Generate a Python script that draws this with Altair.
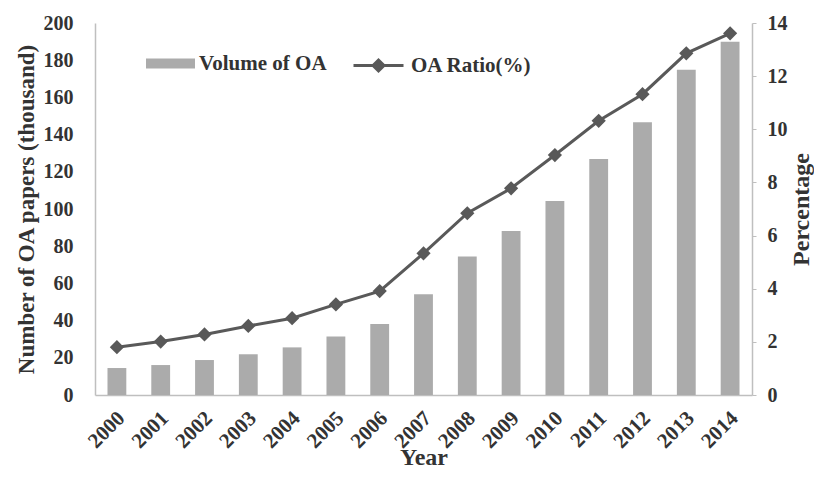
import altair as alt
import pandas as pd

years = [str(y) for y in range(2000, 2015)]
volume_thousand = [14.5, 16.1, 18.8, 21.9, 25.6, 31.4, 38.2, 54.1, 74.4, 88.2, 104.3, 126.9, 146.6, 174.9, 189.9]
oa_ratio = [1.80, 2.01, 2.28, 2.60, 2.89, 3.41, 3.91, 5.33, 6.84, 7.78, 9.03, 10.32, 11.32, 12.86, 13.61]
series_names = ["Volume of OA", "OA Ratio(%)"]
left_ticks = list(range(0, 201, 20))
right_ticks = list(range(0, 15, 2))

df = pd.DataFrame({
    "Year": years,
    "Volume": volume_thousand,
    "Ratio": oa_ratio,
    "bar_series": [series_names[0]] * len(years),
    "line_series": [series_names[1]] * len(years),
})

FONT = "Times New Roman, Liberation Serif, DejaVu Serif, serif"
TEXT = "#333333"
AXIS_GRAY = "#bfbfbf"
BAR = "#ababab"
LINE = "#595959"

x_enc = alt.X(
    "Year:N",
    title="Year",
    scale=alt.Scale(paddingInner=0.57, paddingOuter=0.285),
    axis=alt.Axis(labelAngle=-45, labelPadding=12, labelOffset=-3, ticks=False,
                  labelFontSize=21,
                  domainColor=AXIS_GRAY, domainWidth=1.5,
                  titleY=69, titleBaseline="alphabetic"),
)

bars = alt.Chart(df).mark_bar().encode(
    x=x_enc,
    y=alt.Y("Volume:Q", title="Number of OA papers (thousand)",
            scale=alt.Scale(domain=[0, 200], nice=False),
            axis=alt.Axis(values=left_ticks, ticks=False, labelPadding=22,
                          domainColor=AXIS_GRAY, domainWidth=1.5, titlePadding=5,
                          titleFontSize=23)),
    fill=alt.Fill("bar_series:N",
                  scale=alt.Scale(domain=[series_names[0]], range=[BAR]),
                  legend=alt.Legend(orient="none", legendX=51, legendY=16, title=None,
                                    symbolType="M-1,-0.2H1V0.2H-1Z", symbolSize=2401,
                                    symbolStrokeWidth=0, labelFontSize=21,
                                    labelFont=FONT, labelFontWeight="bold",
                                    labelColor=TEXT, labelOffset=4)),
)

line = alt.Chart(df).mark_line(
    strokeWidth=3,
    point=alt.OverlayMarkDef(shape="diamond", size=130, filled=True, color=LINE),
).encode(
    x=x_enc,
    y=alt.Y("Ratio:Q", title="Percentage",
            scale=alt.Scale(domain=[0, 14], nice=False),
            axis=alt.Axis(orient="right", values=right_ticks, tickSize=4, tickColor=AXIS_GRAY,
                          labelPadding=11, domainColor=AXIS_GRAY, domainWidth=1.5,
                          titleAngle=270, titleBaseline="top", titlePadding=2)),
    stroke=alt.Stroke("line_series:N",
                      scale=alt.Scale(domain=[series_names[1]], range=[LINE]),
                      legend=alt.Legend(orient="none", legendX=257, legendY=16, title=None,
                                        symbolType="M-1,0H1M-0.22,0L0,-0.22L0.22,0L0,0.22Z",
                                        symbolSize=2500, symbolStrokeWidth=3,
                                        symbolFillColor=LINE, symbolStrokeColor=LINE,
                                        labelFontSize=21, labelFont=FONT,
                                        labelFontWeight="bold", labelColor=TEXT, labelOffset=6)),
)

chart = alt.layer(bars, line).resolve_scale(y="independent").properties(
    width=657, height=372,
    autosize=alt.AutoSizeParams(type="none"),
    padding={"left": 87, "top": 15, "right": 62, "bottom": 75},
).configure_axis(
    labelFont=FONT, labelFontSize=20, labelFontWeight="bold", labelColor=TEXT,
    titleFont=FONT, titleFontSize=24, titleFontWeight="bold", titleColor=TEXT,
    grid=False,
).configure_view(stroke=None)

chart.save("out.html", embed_options={"renderer": "svg", "actions": False})
